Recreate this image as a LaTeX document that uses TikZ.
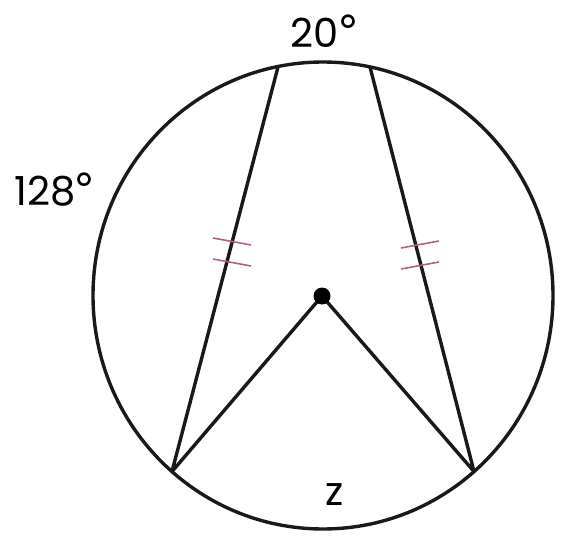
\documentclass[tikz,border=0pt]{standalone}
\usepackage{fontspec}
\setmainfont{Poppins}
\newfontfamily\degfont{DejaVu Sans}
\newcommand{\dg}{\kern-2pt{\degfont\fontsize{44}{48}\selectfont °}}
\definecolor{tick}{RGB}{185,95,125}
\tikzset{
  geo/.style={line width=3.4pt, black!90},
  tickmark/.style={line width=1.6pt, tick},
  lbl/.style={font=\fontsize{40}{44}\selectfont, inner sep=0pt}
}
\begin{document}
\begin{tikzpicture}[x=1pt,y=-1pt]
\useasboundingbox (0,0) rectangle (567,540);
\coordinate (O) at (323,295.5);
\coordinate (P) at (322,296);
\coordinate (A) at (278,67);
\coordinate (B) at (370,67);
\coordinate (C) at (172,471.5);
\coordinate (D) at (474,471.5);
\draw[geo] (O) ellipse [x radius=230, y radius=233.5];
\draw[geo, line join=round] (A) -- (C) -- (P) -- (D) -- (B);
\fill (P) circle [radius=8.5];
% tick marks
\draw[tickmark] (213,238) -- (251,245);
\draw[tickmark] (213,259) -- (251,266);
\draw[tickmark] (401,248) -- (439,241);
\draw[tickmark] (401,269) -- (439,262);
\node[lbl] (t20) at (325,31) {20\dg};
\node[lbl] (t128) at (55,190) {128\dg};
\node[lbl] (tz) at (335,495) {z};
\end{tikzpicture}
\end{document}
